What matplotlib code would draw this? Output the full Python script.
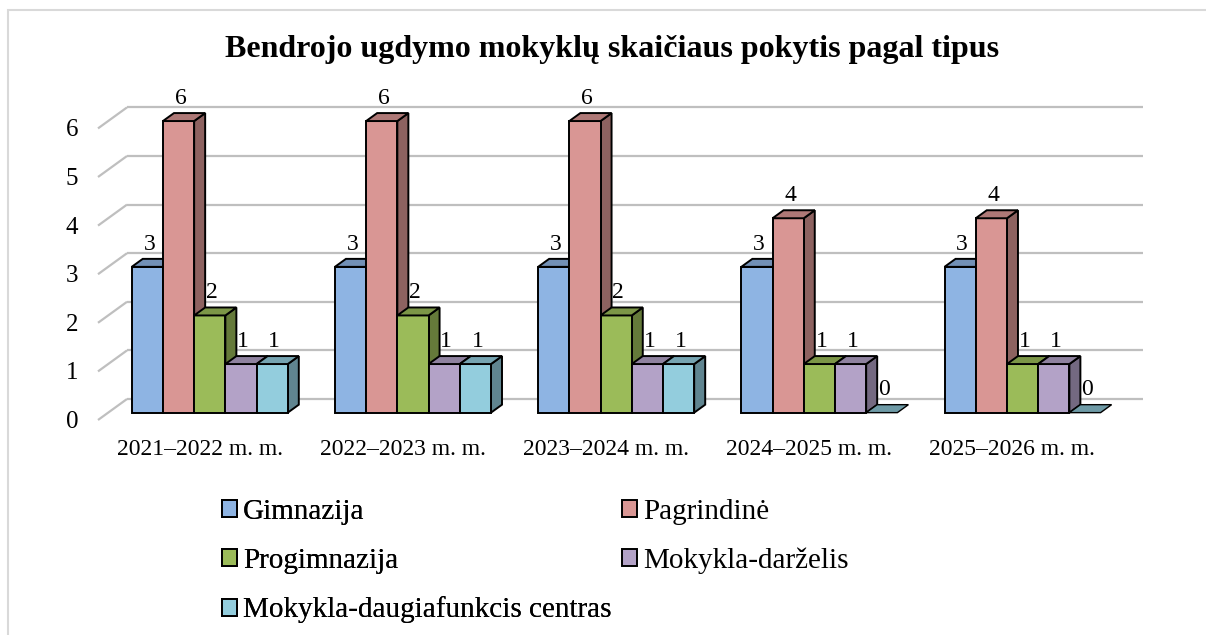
import matplotlib
matplotlib.use("Agg")
import matplotlib.pyplot as plt
from matplotlib.patches import Polygon, Rectangle, Patch
from matplotlib.colors import to_rgb
import numpy as np

# ---------------- data ----------------
categories = ["2021–2022 m. m.", "2022–2023 m. m.", "2023–2024 m. m.",
              "2024–2025 m. m.", "2025–2026 m. m."]
series_names = ["Gimnazija", "Pagrindinė", "Progimnazija",
                "Mokykla-darželis", "Mokykla-daugiafunkcis centras"]
gimnazija = [3, 3, 3, 3, 3]
pagrindine = [6, 6, 6, 4, 4]
progimnazija = [2, 2, 2, 1, 1]
darzelis = [1, 1, 1, 1, 1]
daugiafunkcis = [1, 1, 1, 0, 0]
y_ticks = [0, 1, 2, 3, 4, 5, 6]
title = "Bendrojo ugdymo mokyklų skaičiaus pokytis pagal tipus"

series = [gimnazija, pagrindine, progimnazija, darzelis, daugiafunkcis]
colors = ["#8EB4E3", "#D99694", "#9BBB59", "#B3A2C7", "#93CDDD"]

# ---------------- layout ----------------
W, H, DPI = 1206, 635, 100
fig = plt.figure(figsize=(W / DPI, H / DPI), dpi=DPI)
ax = fig.add_axes([0, 0, 1, 1])
px_cat = 203.2      # pixels per category
px_val = 48.6       # pixels per unit value
x0_px, y0_px = 98, 420
ax.set_xlim(-x0_px / px_cat, (W - x0_px) / px_cat)
ax.set_ylim((y0_px - H) / px_val, y0_px / px_val)
ax.axis("off")

DX = 29 / px_cat    # depth offset (x) for full depth
DY = 21 / px_val    # depth offset (y) for full depth
d_front, d_back = 0.35, 0.73

serif = "Liberation Serif"
grid_c = "#BFBFBF"

# walls / gridlines
ncat = len(categories)
for v in y_ticks:
    ax.plot([0, DX], [v, v + DY], color=grid_c, lw=1.6, zorder=1,
            solid_capstyle="butt")
    ax.plot([DX, ncat + DX], [v + DY, v + DY], color=grid_c, lw=1.6,
            zorder=1, solid_capstyle="butt")
    ax.text(-0.098, v - 0.04, str(v), ha="right", va="center", fontsize=18,
            family=serif, color="black")


def shade(c, f):
    r, g, b = to_rgb(c)
    return (r * f, g * f, b * f)


group_w = 0.768
bar_w = group_w / len(series)
z = 2
for i in range(ncat):
    for j, (vals, col) in enumerate(zip(series, colors)):
        v = vals[i]
        xl = i + 0.5 - group_w / 2 + j * bar_w + d_front * DX
        xr = xl + bar_w
        yb = d_front * DY
        yt = yb + v
        ddx = (d_back - d_front) * DX
        ddy = (d_back - d_front) * DY
        ec = "black"
        lw = 1.4
        if v > 0:
            front = Polygon([(xl, yb), (xr, yb), (xr, yt), (xl, yt)],
                            closed=True, fc=col, ec=ec, lw=lw, zorder=z,
                            joinstyle="miter")
            side = Polygon([(xr, yb), (xr + ddx, yb + ddy), (xr + ddx, yt + ddy),
                            (xr, yt)], closed=True, fc=shade(col, 0.65), ec=ec,
                           lw=lw, zorder=z, joinstyle="miter")
            ax.add_patch(side)
            ax.add_patch(front)
        top = Polygon([(xl, yt), (xr, yt), (xr + ddx, yt + ddy), (xl + ddx, yt + ddy)],
                      closed=True, fc=shade(col, 0.8 if v > 0 else 0.75), ec=ec,
                      lw=lw if v > 0 else 1.0, zorder=z, joinstyle="miter")
        ax.add_patch(top)
        z += 1
        ax.text((xl + xr) / 2 + 0.01, yt + 0.47, str(v), ha="center", va="center",
                fontsize=17, family=serif, color="black", zorder=50)

# category labels
for i, c in enumerate(categories):
    ax.text(i + 0.5, -0.6, c, ha="center", va="center", fontsize=17,
            family=serif, color="black")

# title
fig.text(0.5 * (227 + 998) / W, 1 - 49 / H, title, ha="center", va="center",
         fontsize=23, fontweight="bold", family=serif)

# legend (row-major order as in reference: two separate columns)
handles = [Patch(fc=c, ec="black", lw=1.4) for c in colors]
col1 = [0, 2, 4]
col2 = [1, 3]
leg_kw = dict(frameon=False, prop={"family": serif, "size": 21},
              handlelength=0.52, handleheight=0.52, handletextpad=0.2,
              labelspacing=0.78, borderpad=0, borderaxespad=0, loc="upper left")
leg1 = fig.legend([handles[k] for k in col1], [series_names[k] for k in col1],
                  bbox_to_anchor=(222 / W, 1 - 499 / H), **leg_kw)
fig.add_artist(leg1)
leg2 = fig.legend([handles[k] for k in col2], [series_names[k] for k in col2],
                  bbox_to_anchor=(622 / W, 1 - 499 / H), **leg_kw)

# outer border
fig.add_artist(Rectangle((8 / W, -0.1), 1.2, 1 - 10 / H + 0.1,
                         transform=fig.transFigure, fill=False,
                         ec="#D9D9D9", lw=1.5))

fig.savefig("out.png", dpi=DPI)
